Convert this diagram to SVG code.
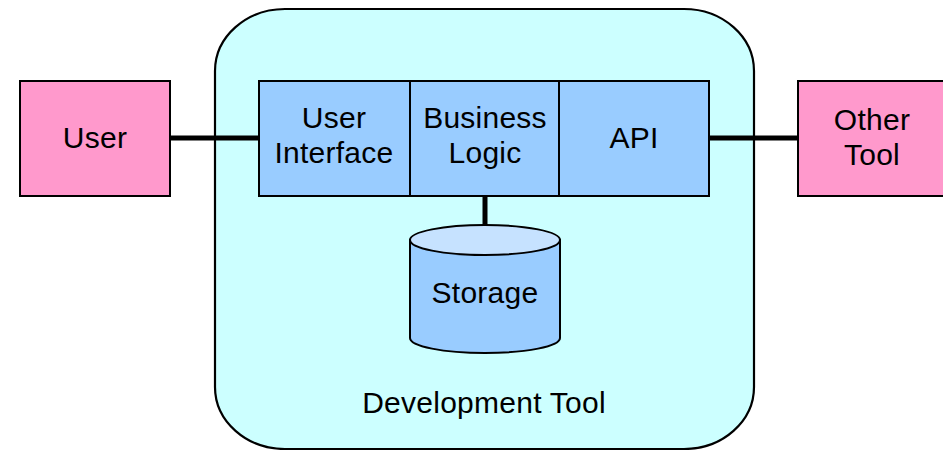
<svg xmlns="http://www.w3.org/2000/svg" width="943" height="450" viewBox="0 0 943 450">
<style>
text{font-family:"Liberation Sans",Arial,sans-serif;font-size:30px;letter-spacing:0.25px;fill:#000;text-anchor:middle}
.ext{fill:#FF99CC;stroke:#000;stroke-width:2}
.comp{fill:#99CCFF;stroke:#000;stroke-width:2}
.conn{stroke:#000;stroke-width:5;fill:none}
</style>
<rect width="943" height="450" fill="#fff"/>
<g id="devtool">
<rect x="215" y="9" width="539" height="440" rx="70" ry="62" fill="#CCFFFF" stroke="#000" stroke-width="2.2"/>
<text x="484" y="413">Development Tool</text>
</g>
<g id="connectors">
<line class="conn" x1="170" y1="138" x2="259" y2="138"/>
<line class="conn" x1="709" y1="138" x2="798" y2="138"/>
<line class="conn" x1="485" y1="196" x2="485" y2="226"/>
</g>
<g id="user">
<rect class="ext" x="20" y="81" width="150" height="115"/>
<text x="95" y="148">User</text>
</g>
<g id="ui">
<rect class="comp" x="259" y="81" width="151" height="115"/>
<text x="334" y="128">User</text>
<text x="334" y="163">Interface</text>
</g>
<g id="business">
<rect class="comp" x="410" y="81" width="149" height="115"/>
<text x="485" y="128">Business</text>
<text x="485" y="163">Logic</text>
</g>
<g id="api">
<rect class="comp" x="559" y="81" width="150" height="115"/>
<text x="634" y="148">API</text>
</g>
<g id="othertool">
<rect class="ext" x="798" y="81" width="149" height="115"/>
<text x="872" y="130">Other</text>
<text x="872" y="165">Tool</text>
</g>
<g id="storage">
<path d="M410,240 L410,338 A75,15 0 0 0 560,338 L560,240 Z" fill="#99CCFF" stroke="#000" stroke-width="2"/>
<ellipse cx="485" cy="240" rx="75" ry="15" fill="#C6E2FF" stroke="#000" stroke-width="2"/>
<text x="485" y="303">Storage</text>
</g>
</svg>
